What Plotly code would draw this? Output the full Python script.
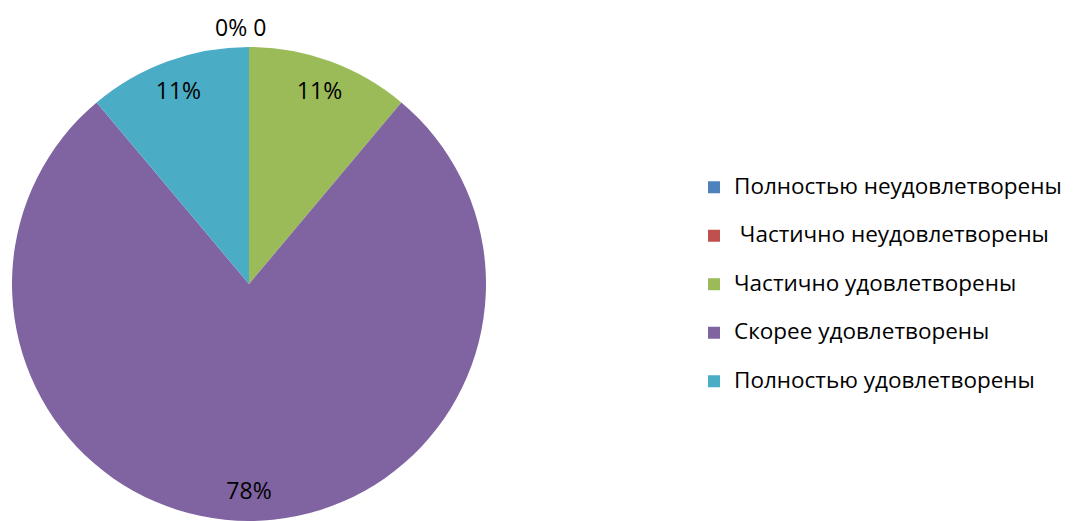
import plotly.graph_objects as go

categories = ["Полностью неудовлетворены", " Частично неудовлетворены",
              "Частично удовлетворены", "Скорее удовлетворены", "Полностью удовлетворены"]
values = [0, 0, 1, 7, 1]
label_text = ["0%", "0", "11%", "78%", "11%"]
colors = ["#4F81BD", "#C0504D", "#9BBB59", "#8064A2", "#4BACC6"]

FONT = "Open Sans"
TXT = 23
LEG_TXT = 22.5
W, H = 1068, 513   # page body has an 8px margin
domain = dict(x=[4/W, 478/W], y=[0, (H-39)/H])

legend_labels = ["\u00a0<br><span style='font-size:%spx'>%s</span>" % (LEG_TXT, c.replace(" ", "\u00a0", 1) if c.startswith(" ") else c)
                 for c in categories]

fig = go.Figure()
fig.add_trace(go.Pie(
    labels=legend_labels,
    values=values,
    textinfo="none",
    marker=dict(colors=colors, line=dict(width=0)),
    sort=False,
    direction="clockwise",
    rotation=0,
    domain=domain,
    hovertemplate="%{customdata}: %{percent}<extra></extra>",
    customdata=categories,
))
# transparent ring carrying the data labels near the rim
fig.add_trace(go.Pie(
    labels=categories,
    values=values,
    text=label_text,
    textinfo="text",
    textposition=["none" if v == 0 else "inside" for v in values],
    insidetextorientation="horizontal",
    hole=0.74,
    marker=dict(colors=["rgba(0,0,0,0)"] * len(values), line=dict(width=0)),
    sort=False,
    direction="clockwise",
    rotation=0,
    domain=domain,
    showlegend=False,
    hoverinfo="skip",
    textfont=dict(family=FONT, size=TXT, color="black"),
))

zero_text = " ".join(t for t, v in zip(label_text, values) if v == 0)
fig.add_annotation(text=zero_text, x=232/W, y=(H-19)/H, xref="paper", yref="paper",
                   xanchor="center", yanchor="middle", showarrow=False,
                   font=dict(family=FONT, size=TXT, color="black"))

fig.update_layout(
    width=W, height=H,
    margin=dict(l=0, r=0, t=0, b=0, autoexpand=False),
    paper_bgcolor="white",
    showlegend=True,
    legend=dict(x=686/W, xanchor="left", y=(H-265)/H, yanchor="middle",
                font=dict(family=FONT, size=17.5, color="black"),
                valign="bottom", itemclick=False, itemdoubleclick=False),
)

fig.write_html("out.html")
